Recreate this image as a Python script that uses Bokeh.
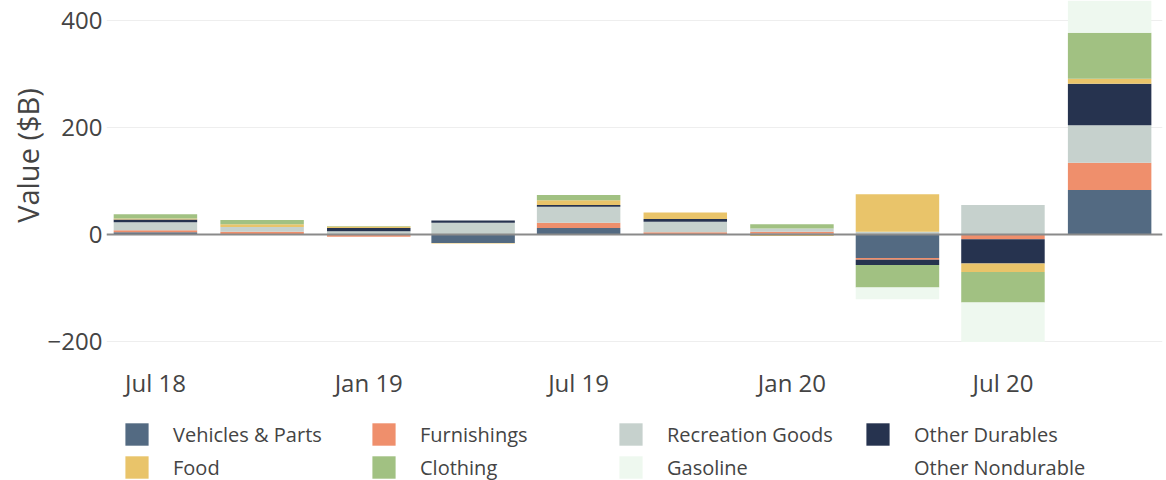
import math
import numpy as np
import pandas as pd
from bokeh.plotting import figure
from bokeh.layouts import column, row
from bokeh.models import (ColumnDataSource, Legend, LegendItem, Span, DatetimeTickFormatter,
                          MonthsTicker, SingleIntervalTicker, Range1d, Label)
from bokeh.embed import file_html
from bokeh.resources import INLINE

# ---------------- data ----------------
quarters = ["2018-07-01", "2018-10-01", "2019-01-01", "2019-04-01", "2019-07-01",
            "2019-10-01", "2020-01-01", "2020-04-01", "2020-07-01", "2020-10-01"]
categories = ["Vehicles & Parts", "Furnishings", "Recreation Goods", "Other Durables",
              "Food", "Clothing", "Gasoline", "Other Nondurable"]
vehicles_parts   = [4, 0, 0, -16, 12, 0, 2, -44, 0, 83]
furnishings      = [4, 5, -4, 0, 10, 4, 3, -3, -9, 51]
recreation_goods = [15, 9, 6, 22, 30, 20, 6, 5, 55, 70]
other_durables   = [5, 0, 6, 4, 3, 5, 0, -10, -45, 78]
food             = [2, 5, 3, -1, 9, 12, -3, 70, -16, 9]
clothing         = [8, 8, 1, 0, 10, -1, 8, -42, -57, 86]
gasoline         = [0, 0, 0, 0, 0, 0, 0, -22, -74, 70]
other_nondurable = [0, 0, 0, 0, 0, 0, 0, 0, 0, 0]
series = [vehicles_parts, furnishings, recreation_goods, other_durables,
          food, clothing, gasoline, other_nondurable]
colors = ["#536a82", "#ef8f6c", "#c6d1cd", "#26334f", "#e9c46a", "#a1c182", "#eef8ef", "#ffffff"]
y_ticks_interval = 200
y_title = "Value ($B)"

dates = pd.to_datetime(quarters)
bar_width_ms = 72 * 24 * 3600 * 1000
FONT = "Open Sans"
TXT = "#444444"

# ---------------- y-axis title column ----------------
tfig = figure(width=44, height=404, output_backend="svg", toolbar_location=None,
              x_axis_location=None, y_axis_location=None, min_border=0,
              x_range=Range1d(0, 1), y_range=Range1d(0, 1))
tfig.outline_line_color = None
tfig.grid.visible = False
tfig.add_layout(Label(x=27, y=197, x_units="screen", y_units="screen", text=y_title,
                      angle=math.pi / 2, text_align="center", text_baseline="middle",
                      text_font=FONT, text_font_size="29px", text_color=TXT))

# ---------------- main chart ----------------
p = figure(width=1122, height=404, x_axis_type="datetime", output_backend="svg",
           toolbar_location=None, min_border_left=56, min_border_right=4,
           min_border_top=0, min_border_bottom=52,
           x_range=Range1d(dates[0] - pd.Timedelta(days=42.2), dates[-1] + pd.Timedelta(days=45.6)),
           y_range=Range1d(-220.6, 437.4))
p.outline_line_color = None

pos = np.zeros(len(quarters))
neg = np.zeros(len(quarters))
for name, vals, col in zip(categories, series, colors):
    v = np.array(vals, dtype=float)
    bottom = np.where(v >= 0, pos, neg)
    top = bottom + v
    pos = np.where(v >= 0, top, pos)
    neg = np.where(v < 0, top, neg)
    src = ColumnDataSource(dict(x=dates, bottom=bottom, top=top))
    p.vbar(x="x", width=bar_width_ms, bottom="bottom", top="top", source=src,
           fill_color=col, line_color=None)

p.add_layout(Span(location=0, dimension="width", line_color="#8a8a8a", line_width=2,
                  level="overlay"))

p.xaxis.ticker = MonthsTicker(months=[0, 6])
p.xaxis.formatter = DatetimeTickFormatter(months="%b %y", years="%b %y", days="%b %y")
p.xaxis.axis_line_color = None
p.xaxis.major_tick_line_color = None
p.xaxis.minor_tick_line_color = None
p.xaxis.major_tick_out = 0
p.xaxis.major_label_standoff = 13
p.xaxis.major_label_text_font = FONT
p.xaxis.major_label_text_font_size = "24px"
p.xaxis.major_label_text_color = TXT

p.yaxis.ticker = SingleIntervalTicker(interval=y_ticks_interval)
p.yaxis.major_label_overrides = {-200: "\u2212200"}
p.yaxis.axis_line_color = None
p.yaxis.major_tick_line_color = None
p.yaxis.minor_tick_line_color = None
p.yaxis.major_tick_out = 0
p.yaxis.major_label_standoff = 0
p.yaxis.major_label_text_font = FONT
p.yaxis.major_label_text_font_size = "24px"
p.yaxis.major_label_text_color = TXT

p.xgrid.grid_line_color = None
p.ygrid.grid_line_color = "#eeeeee"
p.ygrid.grid_line_width = 1

# ---------------- legend strip ----------------
pl = figure(width=1166, height=76, output_backend="svg", toolbar_location=None,
            x_axis_location=None, y_axis_location=None,
            min_border_left=122, min_border_top=16, min_border_right=0, min_border_bottom=0,
            x_range=Range1d(0, 1), y_range=Range1d(0, 1))
pl.outline_line_color = None
pl.grid.visible = False
items = []
for name, col in zip(categories, colors):
    r = pl.vbar(x=[-5], top=[-5], bottom=[-6], width=0.1, fill_color=col, line_color=None)
    items.append(LegendItem(label=name, renderers=[r]))
legend = Legend(items=items, location="top_left", orientation="horizontal", ncols=4,
                glyph_width=29, glyph_height=28, label_standoff=22, label_width=191,
                spacing=5, padding=0, margin=0, border_line_color=None,
                background_fill_alpha=0, label_text_font=FONT,
                label_text_font_size="20px", label_text_color=TXT)
pl.add_layout(legend, "center")

layout = column(row(tfig, p, spacing=0), pl, spacing=0)
open("out.html", "w").write(file_html(layout, INLINE))
